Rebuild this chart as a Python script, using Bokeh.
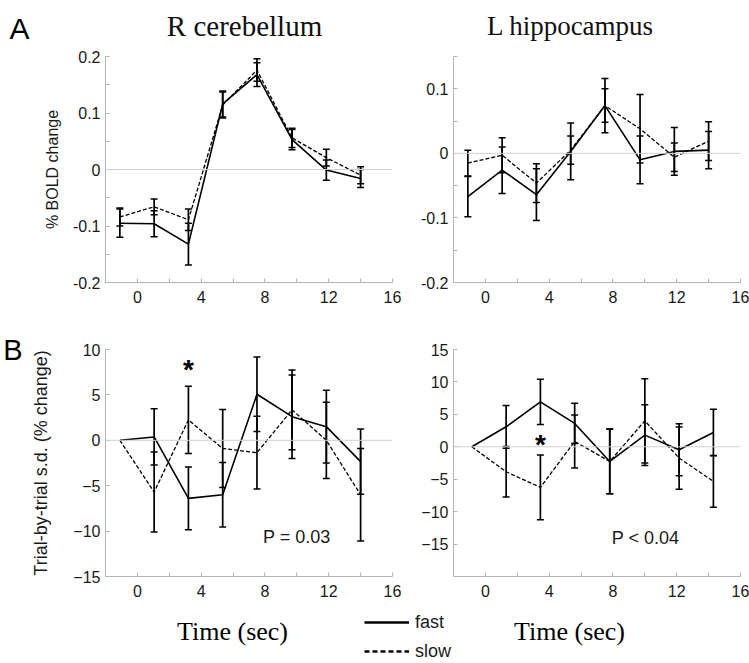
from bokeh.plotting import figure
from bokeh.models import (ColumnDataSource, Whisker, TeeHead, Span, FixedTicker, LinearAxis,
                          CustomJSTickFormatter, Label, Legend, LegendItem, Range1d)
from bokeh.layouts import column, row
from bokeh.embed import file_html
from bokeh.resources import INLINE
from bokeh.core.properties import value

# ---------------- data ----------------
time_s = [-1.1, 1.05, 3.2, 5.35, 7.5, 9.7, 11.85, 14.0]
time_br = [-0.85, 1.3, 3.45, 5.6, 7.8, 10.0, 12.15, 14.3]

# A: % BOLD change, R cerebellum
cb_fast = [-0.095, -0.096, -0.132, 0.116, 0.168, 0.053, -0.001, -0.016]
cb_fast_err = [0.025, 0.023, 0.037, 0.023, 0.021, 0.018, 0.018, 0.016]
cb_slow = [-0.084, -0.066, -0.089, 0.114, 0.176, 0.056, 0.021, -0.010]
cb_slow_err = [0.016, 0.014, 0.019, 0.023, 0.020, 0.017, 0.015, 0.015]

# A: % BOLD change, L hippocampus
hc_fast = [-0.067, -0.026, -0.064, 0.003, 0.074, -0.010, 0.003, 0.005]
hc_fast_err = [0.031, 0.036, 0.040, 0.044, 0.042, 0.037, 0.037, 0.029]
hc_slow = [-0.015, -0.003, -0.046, 0.005, 0.074, 0.038, -0.006, 0.019]
hc_slow_err = [0.020, 0.027, 0.030, 0.022, 0.026, 0.053, 0.022, 0.030]

# B: trial-by-trial s.d. (% change); errors given from the 2nd time point on
sd_cb_fast = [0, 0.37, -6.4, -6.0, 5.07, 2.6, 1.5, -2.35]
sd_cb_fast_err = [3.1, 3.45, 3.55, 4.1, 4.6, 4.0, 3.6]
sd_cb_slow = [0, -5.7, 2.24, -0.9, -1.36, 3.35, 0.0, -6.0]
sd_cb_slow_err = [4.4, 3.7, 4.3, 4.0, 4.4, 4.2, 5.1]

sd_hc_fast = [0, 3.08, 6.92, 3.6, -2.26, 1.8, -0.46, 2.2]
sd_hc_fast_err = [3.3, 3.5, 3.1, 5.0, 4.7, 4.0, 3.6]
sd_hc_slow = [0, -3.85, -6.26, 0.82, -2.26, 4.0, -1.74, -5.33]
sd_hc_slow_err = [3.9, 5.0, 4.1, 5.0, 6.5, 4.8, 4.0]

star_y = [7.8, 0.3]                 # significance markers (at 3rd time point)
p_texts = ["P = 0.03", "P < 0.04"]
p_x = [10.0, 10.05]
p_y = [-10.7, -14.0]

x_ticks = [0, 4, 8, 12, 16]
x_minor = [2, 6, 10, 14]

SANS = "Liberation Sans"
SERIF = "Liberation Serif"
AXIS_GRAY = "#b4b4b4"


def make_panel(w, h, bl, br, bt, bb, yr, yticks, yminor, fmt=None):
    p = figure(width=w, height=h, x_range=Range1d(-2, 16), y_range=Range1d(*yr),
               output_backend="svg", toolbar_location=None, title=None,
               min_border_left=bl, min_border_right=br,
               min_border_top=bt, min_border_bottom=bb)
    p.grid.visible = False
    p.outline_line_color = None
    p.background_fill_color = "white"
    p.border_fill_color = "white"
    p.xaxis.ticker = FixedTicker(ticks=x_ticks, minor_ticks=x_minor)
    p.yaxis.ticker = FixedTicker(ticks=yticks, minor_ticks=yminor)
    if fmt is not None:
        p.yaxis.formatter = fmt
    for ax in (p.xaxis, p.yaxis):
        ax.axis_line_color = AXIS_GRAY
        ax.axis_line_width = 1
        ax.major_tick_line_color = AXIS_GRAY
        ax.minor_tick_line_color = AXIS_GRAY
        ax.major_tick_in = 4
        ax.major_tick_out = 0
        ax.minor_tick_in = 4
        ax.minor_tick_out = 0
        ax.major_label_text_font = SANS
        ax.major_label_text_font_size = "16px"
        ax.major_label_text_color = "#1a1a1a"
        ax.axis_label_text_font = SANS
        ax.axis_label_text_font_style = "normal"
        ax.axis_label_text_font_size = "18px"
        ax.axis_label_text_color = "#1a1a1a"
    p.xaxis.major_label_standoff = 8
    p.yaxis.major_label_standoff = 5
    p.add_layout(Span(location=0, dimension="width", line_color="#d0d0d0", line_width=1))
    return p


def add_series(p, t, fast, slow, fast_err, slow_err, start=0):
    p.line(t, fast, line_color="black", line_width=1.6)
    p.line(t, slow, line_color="black", line_width=1.3, line_dash="4 2")
    for y, e in ((fast, fast_err), (slow, slow_err)):
        tt = t[start:]
        yy = y[start:]
        src = ColumnDataSource(dict(base=tt,
                                    upper=[a + b for a, b in zip(yy, e)],
                                    lower=[a - b for a, b in zip(yy, e)]))
        p.add_layout(Whisker(source=src, base="base", upper="upper", lower="lower",
                             dimension="height", line_color="black", line_width=1.7,
                             upper_head=TeeHead(size=7, line_color="black", line_width=1.5),
                             lower_head=TeeHead(size=7, line_color="black", line_width=1.5)))


def blank_fig(w, h):
    f = figure(width=w, height=h, x_range=Range1d(0, 1), y_range=Range1d(0, 1),
               x_axis_type=None, y_axis_type=None, title=None,
               output_backend="svg", toolbar_location=None, min_border=0)
    f.grid.visible = False
    f.outline_line_color = None
    return f


fmt_dec = CustomJSTickFormatter(code="return String(Math.round(tick*100)/100);")

# ---------------- header: panel letter + region titles ----------------
head = blank_fig(749, 47)
head.add_layout(Label(x=9, y=19, x_units="screen", y_units="screen", text="A",
                      text_font=SANS, text_font_size="30px", text_color="black",
                      text_baseline="middle"))
for cx, name, fs in ((244, "R cerebellum", "29px"), (570, "L hippocampus", "27px")):
    head.add_layout(Label(x=cx, y=22, x_units="screen", y_units="screen", text=name,
                          text_align="center", text_baseline="middle",
                          text_font=SERIF, text_font_size=fs, text_color="#111111"))

# ---------------- top row ----------------
tl = make_panel(405, 268, 105, 13, 9, 33, (-0.2, 0.2),
                [-0.2, -0.1, 0, 0.1, 0.2], [-0.15, -0.05, 0.05, 0.15], fmt_dec)
tl.yaxis.axis_label = "% BOLD change"
tl.yaxis.axis_label_text_font_size = "16px"
tl.yaxis.axis_label_standoff = 9
add_series(tl, time_s, cb_fast, cb_slow, cb_fast_err, cb_slow_err)

tr = make_panel(344, 268, 48, 9, 9, 33, (-0.2, 0.15),
                [-0.2, -0.1, 0, 0.1], [-0.15, -0.05, 0.05, 0.15], fmt_dec)
add_series(tr, time_s, hc_fast, hc_slow, hc_fast_err, hc_slow_err)

# ---------------- bottom row ----------------
bl = make_panel(405, 291, 105, 13, 34, 30, (-15, 10),
                [-15, -10, -5, 0, 5, 10], [])
bl.yaxis.axis_label = "Trial-by-trial s.d. (% change)"
bl.yaxis.axis_label_standoff = 19
add_series(bl, time_s, sd_cb_fast, sd_cb_slow, sd_cb_fast_err, sd_cb_slow_err, start=1)
bl.text(x=[time_s[2]], y=[star_y[0]], text=["*"], text_font=value(SANS),
        text_font_size="28px", text_font_style="bold", text_align="center",
        text_baseline="middle", text_color="black")
bl.text(x=[p_x[0]], y=[p_y[0]], text=[p_texts[0]], text_font=value(SANS),
        text_font_size="18px", text_align="center", text_baseline="middle",
        text_color="#1a1a1a")
# panel letter "B", level with the top of the left axis (outer left axis)
b_axis = LinearAxis(ticker=FixedTicker(ticks=[10]), major_label_overrides={10: "B"},
                    axis_line_color=None, major_tick_line_color=None,
                    minor_tick_line_color=None,
                    major_tick_in=0, major_tick_out=0, minor_tick_in=0, minor_tick_out=0,
                    major_label_standoff=6, major_label_text_font=SANS,
                    major_label_text_font_size="29px", major_label_text_color="black")
bl.add_layout(b_axis, "left")

br = make_panel(344, 291, 48, 9, 34, 30, (-20, 15),
                [-15, -10, -5, 0, 5, 10, 15], [-20])
add_series(br, time_br, sd_hc_fast, sd_hc_slow, sd_hc_fast_err, sd_hc_slow_err, start=1)
br.text(x=[time_br[2]], y=[star_y[1]], text=["*"], text_font=value(SANS),
        text_font_size="28px", text_font_style="bold", text_align="center",
        text_baseline="middle", text_color="black")
br.text(x=[p_x[1]], y=[p_y[1]], text=[p_texts[1]], text_font=value(SANS),
        text_font_size="18px", text_align="center", text_baseline="middle",
        text_color="#1a1a1a")

# ---------------- footer: x labels + legend ----------------
foot = blank_fig(749, 57)
# single-point lines: nothing drawn in the frame, only their legend glyphs
r_fast = foot.line(x=[0], y=[0], line_color="black", line_width=2.4)
r_slow = foot.line(x=[0], y=[0], line_color="black", line_width=2.4, line_dash="5 3")
leg = Legend(items=[LegendItem(label="fast", renderers=[r_fast]),
                    LegendItem(label="slow", renderers=[r_slow])],
             location=(364, 1), padding=0, spacing=7, glyph_width=45, glyph_height=22,
             label_height=22, label_standoff=6, border_line_color=None,
             background_fill_alpha=0, label_text_font=SANS, label_text_font_size="18px",
             label_text_color="#1a1a1a")
foot.add_layout(leg)
for cx in (232, 569):
    foot.add_layout(Label(x=cx, y=32, x_units="screen", y_units="screen", text="Time (sec)",
                          text_align="center", text_baseline="middle", text_font=SERIF,
                          text_font_size="26px", text_color="black"))

layout = column(head, row(tl, tr), row(bl, br), foot)

with open("out.html", "w") as f:
    f.write(file_html(layout, INLINE))
